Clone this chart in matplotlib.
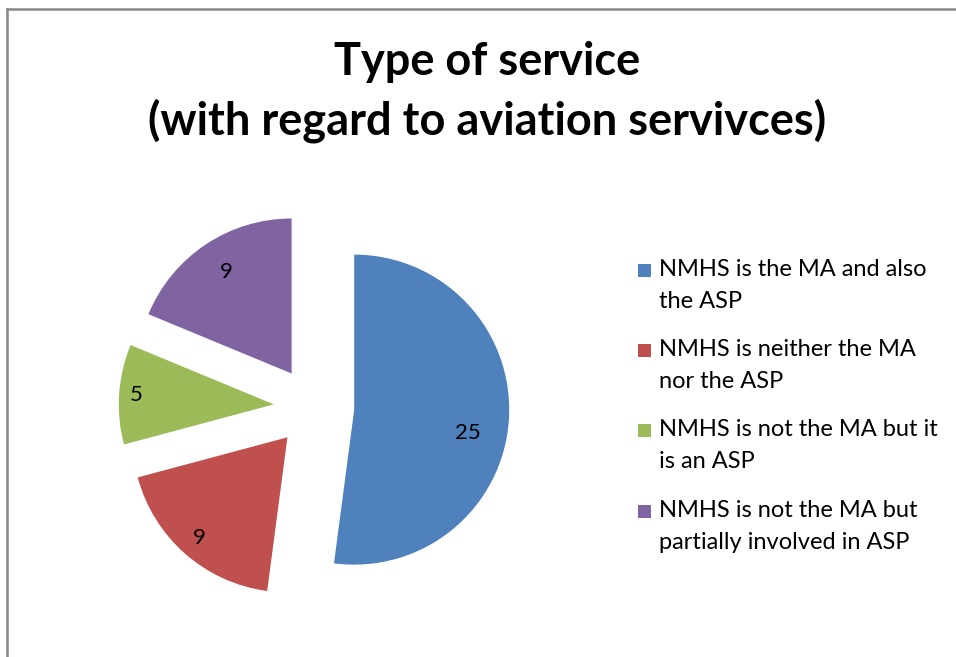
import numpy as np
import matplotlib
matplotlib.use('agg')
import matplotlib.pyplot as plt
from matplotlib.lines import Line2D
from matplotlib.patches import Rectangle

### DATA ###
categories = ['NMHS is the MA and also\nthe ASP',
              'NMHS is neither the MA\nnor the ASP',
              'NMHS is not the MA but it\nis an ASP',
              'NMHS is not the MA but\npartially involved in ASP']
values = [25, 9, 5, 9]
colors = ['#4F81BD', '#C0504D', '#9BBB59', '#8064A2']
title = 'Type of service\n(with regard to aviation servivces)'

plt.rcParams['font.family'] = ['Lato', 'DejaVu Sans']

W, H = 956, 657
fig = plt.figure(figsize=(W / 100, H / 100), dpi=100)

### PIE AXES: center at (314,407) px, radius 155 px
cx, cy, rpx = 314, 407, 155
half = 250
ax = fig.add_axes([(cx - half) / W, 1 - (cy + half) / H, 2 * half / W, 2 * half / H])

wedges, _ = ax.pie(values, colors=colors, startangle=90, counterclock=False,
                   explode=[0.26] * len(values), radius=1,
                   wedgeprops={'linewidth': 0})
# pie() resets the limits, so set them afterwards
ax.set_xlim(-half / rpx, half / rpx)
ax.set_ylim(-half / rpx, half / rpx)
ax.set_aspect('equal')
ax.axis('off')

# data labels (Excel puts them a bit off the bisector)
label_r = [0.75, 0.86, 0.89, 0.78]
label_shift = [-8, 0, 0, -1]
for w, v, r, s in zip(wedges, values, label_r, label_shift):
    th = np.deg2rad((w.theta1 + w.theta2) / 2 + s)
    x0, y0 = w.center
    ax.text(x0 + r * np.cos(th), y0 + r * np.sin(th), str(v),
            ha='center', va='center', fontsize=16, color='black')

### TITLE ###
fig.text(487 / W, 1 - 92 / H, title, ha='center', va='center',
         fontsize=32.5, fontweight='bold', linespacing=1.45)

### LEGEND (square aligned with first line) ###
ys = [270, 350, 430, 511]
for lab, col, y in zip(categories, colors, ys):
    fig.add_artist(Rectangle((638 / W, 1 - (y + 7) / H), 13 / W, 13 / H,
                             transform=fig.transFigure, color=col, lw=0))
    fig.text(659 / W, 1 - (y - 11) / H, lab, ha='left', va='top',
             fontsize=17, linespacing=1.65)

### FRAME (top and left borders only visible) ###
fig.add_artist(Line2D([7 / W, 1], [1 - 9 / H, 1 - 9 / H], transform=fig.transFigure,
                      color='#878787', lw=1.8))
fig.add_artist(Line2D([7 / W, 7 / W], [0, 1 - 9 / H], transform=fig.transFigure,
                      color='#878787', lw=1.8))

fig.savefig('out.png', dpi=100)
